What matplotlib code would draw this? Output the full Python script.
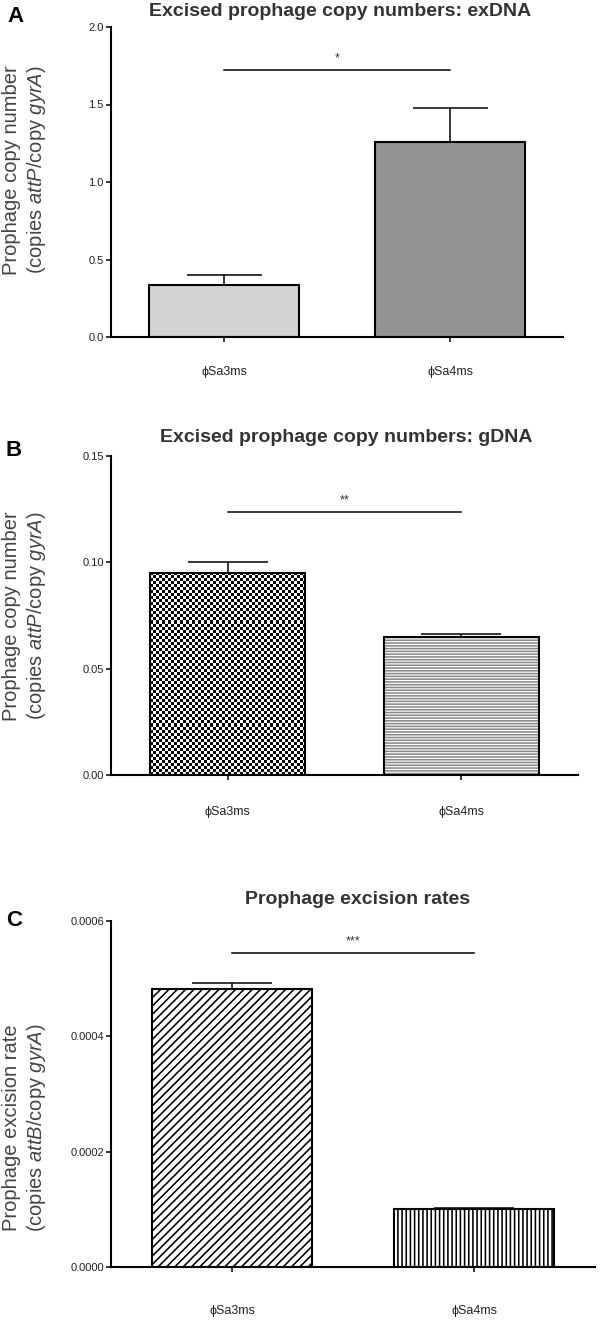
import numpy as np
import matplotlib
matplotlib.use("Agg")
import matplotlib.pyplot as plt
from matplotlib.colors import ListedColormap

# ---------------- data ----------------
categories = ["\u03d5Sa3ms", "\u03d5Sa4ms"]

exdna_mean = [0.335, 1.255]
exdna_err = [0.065, 0.225]

gdna_mean = [0.095, 0.065]
gdna_err = [0.005, 0.0014]

rate_mean = [0.000482, 0.0001005]
rate_err = [0.000010, 0.0000015]

sig_labels = ["*", "**", "***"]
sig_heights = [1.72, 0.1237, 0.000544]

titles = ["Excised prophage copy numbers: exDNA",
          "Excised prophage copy numbers: gDNA",
          "Prophage excision rates"]
panel_letters = ["A", "B", "C"]
ylabels = ["Prophage copy number\n(copies $\\mathit{attP}$/copy $\\mathit{gyrA}$)",
           "Prophage copy number\n(copies $\\mathit{attP}$/copy $\\mathit{gyrA}$)",
           "Prophage excision rate\n(copies $\\mathit{attB}$/copy $\\mathit{gyrA}$)"]
yticks = [[0.0, 0.5, 1.0, 1.5, 2.0],
          [0.00, 0.05, 0.10, 0.15],
          [0.0000, 0.0002, 0.0004, 0.0006]]
ytick_fmt = ["{:.1f}", "{:.2f}", "{:.4f}"]

# ---------------- style ----------------
plt.rcParams["font.family"] = ["Liberation Sans", "DejaVu Sans"]
plt.rcParams["mathtext.fontset"] = "custom"
plt.rcParams["mathtext.rm"] = "Liberation Sans"
plt.rcParams["mathtext.it"] = "Liberation Sans:italic"
plt.rcParams["hatch.linewidth"] = 1.15

W, H = 600, 1321
fig = plt.figure(figsize=(W / 100, H / 100), dpi=100)


def px_axes(left, right, top, bottom):
    return fig.add_axes([left / W, 1 - bottom / H, (right - left) / W, (bottom - top) / H])


axes_px = [(111, 563, 27, 337), (111, 578, 456, 775), (111, 595, 921, 1267)]
xpads = [17, 18.5, 24]
caps = [27, 28.5, 29]
title_pos = [(340, 11), (346, 438), (358, 899)]
letter_pos = [(16, 17), (14, 450), (14, 920)]
ylabel_pos = [(25, 170), (25, 616), (25, 1128)]

means_all = [exdna_mean, gdna_mean, rate_mean]
errs_all = [exdna_err, gdna_err, rate_err]
bw = 0.665

for i in range(3):
    l, r, t, b = axes_px[i]
    ax = px_axes(l, r, t, b)
    means = means_all[i]
    errs = errs_all[i]
    x = np.arange(len(categories))

    if i == 0:
        bars = ax.bar(x, means, width=bw, color=["#d3d3d3", "#939393"],
                      edgecolor="black", linewidth=1.5, zorder=2)
    elif i == 1:
        # bar 1: checkerboard texture clipped to bar
        fill = ax.bar(x, means, width=bw, color="white", edgecolor="#8a8a8a",
                      linewidth=0, zorder=1)
        fill[1].set_hatch("------")
        p0 = fill[0]
        x0, y0 = p0.get_x(), p0.get_y()
        x1, y1 = x0 + p0.get_width(), y0 + p0.get_height()
        ylim_top = yticks[i][-1]
        wpx = p0.get_width() / 2.0 * (r - l)
        hpx = p0.get_height() / ylim_top * (b - t)
        nc = int(round(wpx / 3.0))
        nr = int(round(hpx / 3.0))
        ii, jj = np.indices((nr, nc))
        checker = ((ii + jj) % 2).astype(float)
        im = ax.imshow(checker, extent=[x0, x1, y0, y1], cmap=ListedColormap(["black", "white"]),
                       interpolation="nearest", aspect="auto", zorder=1.5)
        im.set_clip_path(p0)
        bars = ax.bar(x, means, width=bw, color="none", edgecolor="black",
                      linewidth=1.5, zorder=2)
    else:
        bars = ax.bar(x, means, width=bw, color="white", edgecolor="black",
                      linewidth=1.5, zorder=2)
        bars[0].set_hatch("////")
        bars[1].set_hatch("||||")

    ax.errorbar(x, means, yerr=[np.zeros(len(errs)), errs], fmt="none", ecolor="black",
                elinewidth=1.1, capsize=caps[i], capthick=1.1, zorder=3)

    # significance bracket
    ax.plot([x[0], x[1]], [sig_heights[i], sig_heights[i]], color="black", lw=1.1, zorder=3)
    ax.annotate(sig_labels[i], xy=((x[0] + x[1]) / 2, sig_heights[i]), xytext=(0, 4),
                textcoords="offset points", ha="center", va="bottom", fontsize=9, color="#333333")

    ax.set_xlim(-0.5, 1.5)
    ax.set_ylim(yticks[i][0], yticks[i][-1])
    ax.set_yticks(yticks[i])
    ax.set_yticklabels([ytick_fmt[i].format(v) for v in yticks[i]], fontsize=8, color="#222222")
    ax.set_xticks(x)
    ax.set_xticklabels(categories, fontsize=9, color="#222222")
    ax.tick_params(axis="y", direction="out", length=3.6, width=1.1, pad=1.5)
    ax.tick_params(axis="x", direction="out", length=3.6, width=1.1, pad=xpads[i])
    for s in ["top", "right"]:
        ax.spines[s].set_visible(False)
    for s in ["left", "bottom"]:
        ax.spines[s].set_linewidth(1.5)
    ax.set_facecolor("none")

    fig.text(title_pos[i][0] / W, 1 - title_pos[i][1] / H, titles[i], ha="center", va="center",
             fontsize=14, fontweight="bold", color="#333333")
    fig.text(letter_pos[i][0] / W, 1 - letter_pos[i][1] / H, panel_letters[i], ha="center",
             va="center", fontsize=16, fontweight="bold", color="black")
    fig.text(ylabel_pos[i][0] / W, 1 - ylabel_pos[i][1] / H, ylabels[i], ha="center", va="center",
             rotation=90, fontsize=14.5, color="#444444", linespacing=1.2)

fig.savefig("out.png", dpi=100)
